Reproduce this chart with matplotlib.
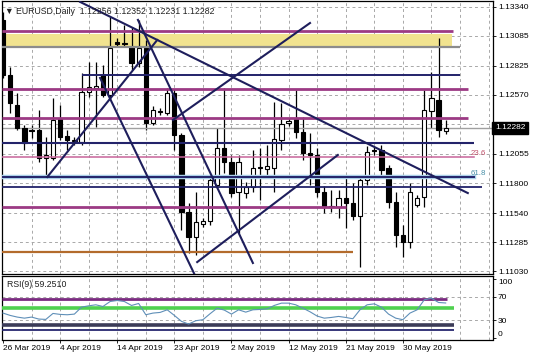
import matplotlib
matplotlib.use("Agg")
import matplotlib.pyplot as plt
import numpy as np

# --- data --------------------------------------------------------------------
chart_title = "\u25bc EURUSD,Daily  1.12256 1.12352 1.12231 1.12282"

opens = [1.13224, 1.12744, 1.12482, 1.12281, 1.12264, 1.12264, 1.12020, 1.12020, 1.12360, 1.12211,
         1.12168, 1.12159, 1.12595, 1.12630, 1.12744, 1.12569, 1.13032, 1.13023, 1.12988, 1.12848,
         1.12979, 1.12325, 1.12421, 1.12412, 1.12587, 1.12220, 1.11549, 1.11330, 1.11444, 1.11470,
         1.11784, 1.12107, 1.11985, 1.11723, 1.11714, 1.11767, 1.11932, 1.11924, 1.11932, 1.12177,
         1.12325, 1.12360, 1.12246, 1.12063, 1.12046, 1.11723, 1.11601, 1.11592, 1.11671, 1.11627,
         1.11514, 1.11828, 1.12089, 1.12089, 1.11932, 1.11636, 1.11348, 1.11287, 1.11610, 1.11679,
         1.12430, 1.12526, 1.12256]
highs = [1.13293, 1.12813, 1.12587, 1.12307, 1.12307, 1.12438, 1.12203, 1.12543, 1.12482, 1.12264,
         1.12203, 1.12761, 1.12857, 1.12857, 1.12831, 1.13250, 1.13067, 1.13180, 1.13162, 1.13224,
         1.13049, 1.12473, 1.12456, 1.12630, 1.12622, 1.12238, 1.11627, 1.11723, 1.11496, 1.11854,
         1.12281, 1.12630, 1.12046, 1.12046, 1.11810, 1.12089, 1.12107, 1.12133, 1.12508, 1.12499,
         1.12369, 1.12613, 1.12377, 1.12238, 1.12107, 1.11775, 1.11740, 1.11740, 1.11845, 1.11801,
         1.11871, 1.12124, 1.12115, 1.12133, 1.11959, 1.11723, 1.11435, 1.11801, 1.11697, 1.12613,
         1.12770, 1.13067, 1.12352]
lows = [1.12718, 1.12412, 1.12264, 1.12089, 1.12194, 1.11985, 1.11845, 1.12002, 1.12177, 1.12089,
        1.12133, 1.12133, 1.12552, 1.12290, 1.12552, 1.12526, 1.12988, 1.12988, 1.12787, 1.12813,
        1.12264, 1.12307, 1.12395, 1.12395, 1.12089, 1.11391, 1.11191, 1.11173, 1.11418, 1.11435,
        1.11758, 1.11889, 1.11679, 1.11365, 1.11671, 1.11723, 1.11653, 1.11871, 1.11723, 1.12089,
        1.12299, 1.12194, 1.12002, 1.11784, 1.11679, 1.11540, 1.11549, 1.11496, 1.11409, 1.11479,
        1.11069, 1.11784, 1.12046, 1.11871, 1.11583, 1.11243, 1.11156, 1.11234, 1.11592, 1.11592,
        1.12281, 1.12203, 1.12231]
closes = [1.12744, 1.12499, 1.12281, 1.12150, 1.12255, 1.12020, 1.12046, 1.12351, 1.12203, 1.12177,
          1.12177, 1.12595, 1.12639, 1.12648, 1.12569, 1.12979, 1.13014, 1.13018, 1.12848, 1.12979,
          1.12325, 1.12438, 1.12430, 1.12587, 1.12220, 1.11549, 1.11330, 1.11461, 1.11470, 1.11828,
          1.12107, 1.11985, 1.11714, 1.11985, 1.11767, 1.11932, 1.11941, 1.11950, 1.12185, 1.12316,
          1.12342, 1.12246, 1.12063, 1.12046, 1.11723, 1.11601, 1.11592, 1.11671, 1.11627, 1.11514,
          1.11828, 1.12072, 1.12080, 1.11915, 1.11636, 1.11348, 1.11287, 1.11723, 1.11671, 1.12438,
          1.12543, 1.12264, 1.12282]

rsi_values = [42.3, 38.4, 35.6, 33.8, 35.6, 32.3, 31.7, 41.7, 40.1, 39.5,
              40.6, 52.3, 54.5, 56.2, 53.4, 61.7, 63.4, 61.7, 55.1, 58.4,
              39.5, 42.3, 43.4, 47.8, 38.4, 28.4, 23.9, 29.5, 31.2, 41.2,
              50.6, 47.3, 40.6, 47.8, 43.9, 47.8, 48.4, 49.5, 55.1, 59.0,
              59.0, 56.2, 50.6, 44.5, 37.3, 33.8, 35.0, 36.7, 35.0, 32.8,
              47.8, 56.2, 57.8, 52.3, 40.6, 33.8, 31.2, 42.3, 47.8, 64.5,
              67.3, 60.1, 59.25]
rsi_label = "RSI(9) 59.2510"

date_labels = ["26 Mar 2019", "4 Apr 2019", "14 Apr 2019", "23 Apr 2019",
               "2 May 2019", "12 May 2019", "21 May 2019", "30 May 2019"]
date_bars = [0, 8, 16, 24, 32, 40, 48, 56]

price_ticks = [1.13340, 1.13085, 1.12825, 1.12570, 1.12315,
               1.12055, 1.11800, 1.11540, 1.11285, 1.11030]
rsi_ticks = [0, 30, 70, 100]

# horizontal objects: price level, first bar, last bar
hline_prices = [1.13128, 1.12988, 1.12744, 1.12622, 1.12369, 1.12150, 1.11767, 1.11592, 1.11200]
hline_starts = [-1, -1, 11.1, -1, -1, -1, -1, -1, -1]
hline_ends = [63.0, 64.0, 64.0, 65.1, 65.1, 66.0, 67.1, 48.0, 49.0]
hline_colors = ["#9c3a84", "#8c8c8c", "#23236a", "#9c3a84", "#9c3a84",
                "#23236a", "#23236a", "#9c3a84", "#b36b2c"]
hline_widths = [2.0, 1.6, 1.4, 2.0, 2.0, 1.5, 1.3, 2.0, 1.6]

band_low, band_high, band_end = 1.12988, 1.13101, 62.9

fibo_levels = ["23.6", "61.8"]
fibo_prices = [1.12028, 1.11854]
fibo_end = 66.0

# trend lines: (bar, price) -> (bar, price)
trend_x = [(10.8, 65.1), (6.2, 21.6), (23.8, 43.0), (13.6, 26.8), (18.9, 35.0), (27.2, 46.9)]
trend_y = [(1.13381, 1.11714), (1.11854, 1.13049), (1.12351, 1.13197),
           (1.12718, 1.11008), (1.13224, 1.11104), (1.11112, 1.12046)]

rsi_line_levels = [66, 50, 22, 14.5]
rsi_line_ends = [62.2, 63.2, 63.2, 63.2]
rsi_line_colors = ["#7a2a80", "#4fd14f", "#3c3c58", "#26266e"]
rsi_line_widths = [2.0, 2.6, 2.6, 1.3]

# --- figure ------------------------------------------------------------------
W, H = 536, 357
fig = plt.figure(figsize=(W / 100, H / 100), dpi=100)
plt.rcParams['font.family'] = ['Liberation Sans', 'DejaVu Sans']
fs = 6.0

ax = fig.add_axes([2 / W, 1 - 274 / H, 491 / W, 273 / H])
ax2 = fig.add_axes([2 / W, 1 - 339.5 / H, 491 / W, 63.5 / H])

xmin, xmax = -0.14, 68.63
bars = np.arange(len(opens))
grid_bars = np.arange(4, 69, 4)
grid_kw = dict(color="#a8a8a8", lw=0.7, ls=(0, (3, 3)), zorder=0)

# main panel
ax.set_xlim(xmin, xmax)
ax.set_ylim(1.11008, 1.13389)
for p in price_ticks:
    ax.axhline(p, **grid_kw)
for b in grid_bars:
    ax.axvline(b, **grid_kw)

ax.fill_between([xmin, band_end], band_low, band_high, color="#f1e38f", lw=0, zorder=1)

o = np.array(opens)
c = np.array(closes)
ax.vlines(bars, lows, highs, color="black", lw=0.9, zorder=2)
up = c >= o
ax.bar(bars[up], np.maximum(c - o, 0.00001)[up], bottom=o[up], width=0.6,
       color="white", edgecolor="black", lw=0.8, zorder=3)
ax.bar(bars[~up], (o - c)[~up], bottom=c[~up], width=0.6,
       color="black", edgecolor="black", lw=0.8, zorder=3)

ax.axhline(closes[-1], color="#a0a0a0", lw=1.0, zorder=2.5)

for p, s, e, col, lw in zip(hline_prices, hline_starts, hline_ends, hline_colors, hline_widths):
    ax.plot([max(s, xmin), e], [p, p], color=col, lw=lw, zorder=4, solid_capstyle="butt")

# fibo levels
ax.plot([xmin, fibo_end], [fibo_prices[0]] * 2, color="#c8649a", lw=1.1, zorder=4)
ax.plot([xmin, fibo_end], [fibo_prices[1]] * 2, color="#a9cfe8", lw=3.2, zorder=4)
ax.plot([xmin, fibo_end], [fibo_prices[1]] * 2, color="#23236a", lw=1.4, zorder=4.1)
ax.text(67.6, fibo_prices[0] + 0.00004, fibo_levels[0], color="#c0506a", fontsize=fs - 0.3,
        ha="right", va="bottom", zorder=6)
ax.text(67.6, fibo_prices[1] + 0.00004, fibo_levels[1], color="#4a90a8", fontsize=fs - 0.3,
        ha="right", va="bottom", zorder=6)

for tx, ty in zip(trend_x, trend_y):
    ax.plot(tx, ty, color="#1e1e5c", lw=1.5, zorder=5)

ax.text(0.35, 1.13300, chart_title, fontsize=fs + 0.3, color="#202020", va="center", ha="left", zorder=7)

ax.yaxis.tick_right()
ax.set_yticks(price_ticks)
# the label next to the current price sits under the price box
ax.set_yticklabels(["" if abs(p - closes[-1]) < 0.0005 else "%.5f" % p for p in price_ticks],
                   fontsize=fs)
ax.tick_params(axis="y", length=2, width=0.6, pad=1.5, colors="black")
ax.set_xticks([])
ax.text(1.004, closes[-1], "%.5f" % closes[-1], transform=ax.get_yaxis_transform(),
        fontsize=fs, color="white", va="center", ha="left", zorder=10, clip_on=False,
        bbox=dict(boxstyle="square,pad=0.3", fc="black", ec="black"))
for sp in ax.spines.values():
    sp.set_linewidth(0.9)

# RSI panel
ax2.set_xlim(xmin, xmax)
ax2.set_ylim(-2, 104.5)
for lv in [30, 70]:
    ax2.axhline(lv, **grid_kw)
for b in grid_bars:
    ax2.axvline(b, **grid_kw)
for lv, e, col, lw in zip(rsi_line_levels, rsi_line_ends, rsi_line_colors, rsi_line_widths):
    ax2.plot([xmin, e], [lv, lv], color=col, lw=lw, zorder=3, solid_capstyle="butt")
ax2.plot(bars, rsi_values, color="#5f8fb8", lw=0.8, zorder=4)
ax2.text(0.5, 91, rsi_label, fontsize=fs + 0.3, color="#202020", va="center", ha="left")

ax2.yaxis.tick_right()
ax2.set_yticks(rsi_ticks)
ax2.set_yticklabels([str(t) for t in rsi_ticks], fontsize=fs)
ax2.tick_params(axis="y", length=2, width=0.6, pad=1.5)
lbls = ax2.get_yticklabels()
lbls[0].set_va("bottom")
lbls[-1].set_va("top")

ax2.set_xticks(date_bars)
ax2.set_xticklabels(date_labels, fontsize=fs)
for t in ax2.get_xticklabels():
    t.set_ha("left")
ax2.tick_params(axis="x", length=2.5, width=0.6, pad=1.5)
for sp in ax2.spines.values():
    sp.set_linewidth(0.9)

fig.savefig("out.png", dpi=100)
